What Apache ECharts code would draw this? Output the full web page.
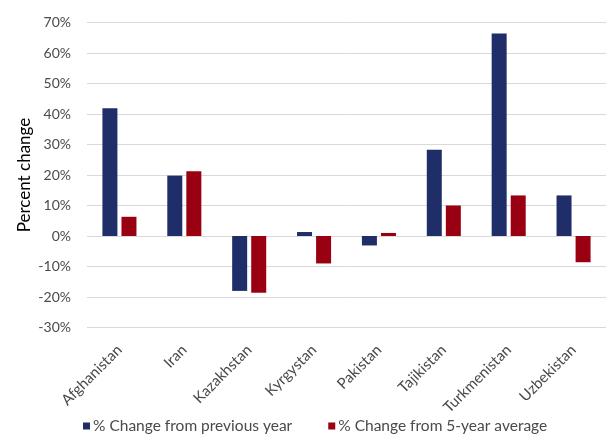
<!DOCTYPE html>
<html>
<head>
<meta charset="utf-8">
<script src="https://cdn.jsdelivr.net/npm/echarts@6/dist/echarts.min.js"></script>
<style>
  html, body { margin: 0; padding: 0; background: #fff; }
  #chart { width: 606px; height: 439px; }
</style>
</head>
<body>
<div id="chart"></div>
<script>
// Countries along the category axis
const countries = ['Afghanistan', 'Iran', 'Kazakhstan', 'Kyrgystan', 'Pakistan', 'Tajikistan', 'Turkmenistan', 'Uzbekistan'];
// Percent change from the previous year
const changePrevYear = [41.9, 19.8, -18.0, 1.3, -3.1, 28.3, 66.4, 13.3];
// Percent change from the 5-year average
const change5YearAvg = [6.3, 21.2, -18.6, -9.0, 1.0, 10.0, 13.3, -8.6];
// Series names shown in the legend
const seriesNames = ['% Change from previous year', '% Change from 5-year average'];

const fontFamily = 'Lato, "Open Sans", sans-serif';
const textColor = '#4a4a4a';

const chart = echarts.init(document.getElementById('chart'), null, { renderer: 'canvas' });
chart.setOption({
  animation: false,
  textStyle: { fontFamily: fontFamily },
  grid: { left: 87, right: 0, top: 22.5, bottom: 111.5, containLabel: false },
  legend: {
    bottom: 0,
    left: 78,
    icon: 'rect',
    itemWidth: 7,
    itemHeight: 7,
    itemGap: 36,
    textStyle: { color: textColor, fontSize: 15.5, fontFamily: fontFamily, padding: [0, 0, 0, -2] },
    data: seriesNames
  },
  xAxis: {
    type: 'category',
    data: countries,
    axisLine: { show: false },
    axisTick: { show: false },
    axisLabel: {
      rotate: 45,
      interval: 0,
      color: textColor,
      fontSize: 15,
      margin: 20,
      fontFamily: fontFamily
    }
  },
  yAxis: {
    type: 'value',
    min: -30,
    max: 70,
    interval: 10,
    name: 'Percent change',
    nameLocation: 'middle',
    nameGap: 54,
    nameMoveOverlap: false,
    nameTextStyle: { color: '#000', fontSize: 17, fontFamily: fontFamily },
    axisLine: { show: false },
    axisTick: { show: false },
    axisLabel: {
      color: textColor,
      fontSize: 14,
      margin: 16,
      formatter: v => v + '%'
    },
    splitLine: { lineStyle: { color: '#d9d9d9', width: 1 } }
  },
  series: [
    {
      name: seriesNames[0],
      type: 'bar',
      data: changePrevYear,
      barWidth: 15,
      barGap: '27%',
      itemStyle: { color: '#1f2d69' }
    },
    {
      name: seriesNames[1],
      type: 'bar',
      data: change5YearAvg,
      barWidth: 15,
      barGap: '27%',
      itemStyle: { color: '#990011' }
    }
  ]
});
</script>
</body>
</html>
